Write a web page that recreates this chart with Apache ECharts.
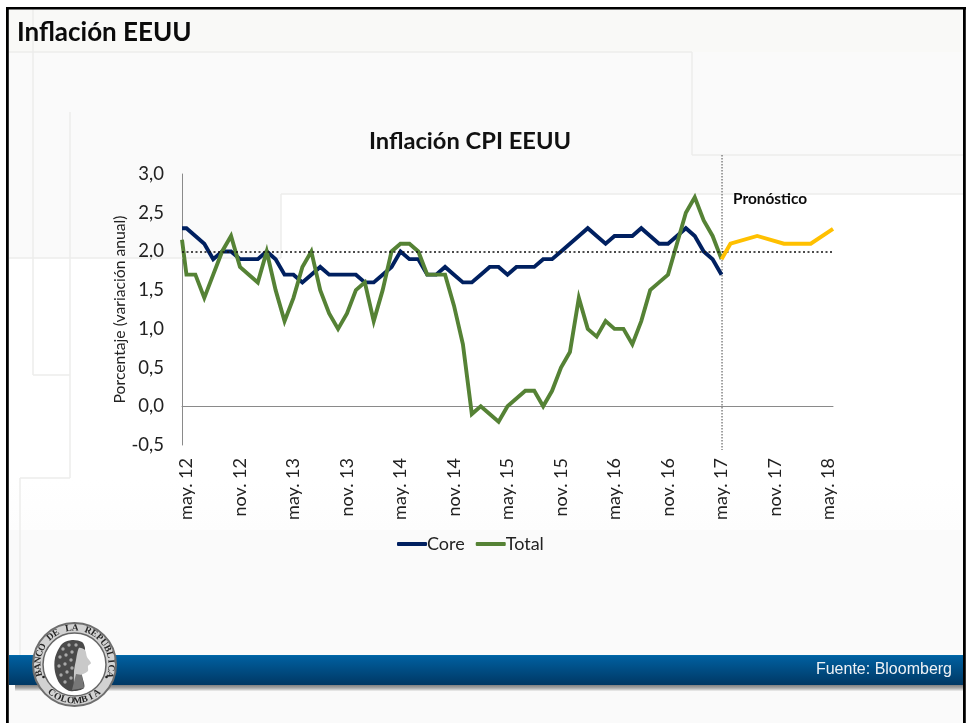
<!DOCTYPE html>
<html><head><meta charset="utf-8">
<style>html,body{margin:0;padding:0;background:#fff}#c{width:968px;height:723px}</style>
<script src="https://cdn.jsdelivr.net/npm/echarts@6/dist/echarts.min.js"></script>
</head><body><div id="c"></div>
<script>
const categories = [
 'may. 12','jun. 12','jul. 12','ago. 12','sep. 12','oct. 12','nov. 12','dic. 12','ene. 13','feb. 13','mar. 13','abr. 13',
 'may. 13','jun. 13','jul. 13','ago. 13','sep. 13','oct. 13','nov. 13','dic. 13','ene. 14','feb. 14','mar. 14','abr. 14',
 'may. 14','jun. 14','jul. 14','ago. 14','sep. 14','oct. 14','nov. 14','dic. 14','ene. 15','feb. 15','mar. 15','abr. 15',
 'may. 15','jun. 15','jul. 15','ago. 15','sep. 15','oct. 15','nov. 15','dic. 15','ene. 16','feb. 16','mar. 16','abr. 16',
 'may. 16','jun. 16','jul. 16','ago. 16','sep. 16','oct. 16','nov. 16','dic. 16','ene. 17','feb. 17','mar. 17','abr. 17',
 'may. 17','jun. 17','jul. 17','ago. 17','sep. 17','oct. 17','nov. 17','dic. 17','ene. 18','feb. 18','mar. 18','abr. 18','may. 18'];
const coreValues = [2.3,2.2,2.1,1.9,2.0,2.0,1.9,1.9,1.9,2.0,1.9,1.7,1.7,1.6,1.7,1.8,1.7,1.7,1.7,1.7,1.6,1.6,1.7,1.8,2.0,1.9,1.9,1.7,1.7,1.8,1.7,1.6,1.6,1.7,1.8,1.8,1.7,1.8,1.8,1.8,1.9,1.9,2.0,2.1,2.2,2.3,2.2,2.1,2.2,2.2,2.2,2.3,2.2,2.1,2.1,2.2,2.3,2.2,2.0,1.9,1.7];
const totalValues = [1.7,1.7,1.4,1.7,2.0,2.2,1.8,1.7,1.6,2.0,1.5,1.1,1.4,1.8,2.0,1.5,1.2,1.0,1.2,1.5,1.6,1.1,1.5,2.0,2.1,2.1,2.0,1.7,1.7,1.7,1.3,0.8,-0.1,0.0,-0.1,-0.2,0.0,0.1,0.2,0.2,0.0,0.2,0.5,0.7,1.4,1.0,0.9,1.1,1.0,1.0,0.8,1.1,1.5,1.6,1.7,2.1,2.5,2.7,2.4,2.2,1.9];
// values of each line where it enters the plot at the left edge, half a month before the first label
const coreEntry = 2.3, totalEntry = 2.15, entryPos = -0.5;
const forecastPos = [60,61,64,67,70,72.5];
const forecastValues = [1.9,2.1,2.2,2.1,2.1,2.29];
const targetValue = 2.0;
const forecastStart = 60;
const seriesNames = ['Core','Total','Pronóstico'];

const pts = (entry, vals) => [[entryPos, entry]].concat(vals.map((v,i)=>[i,v]));
const FONT = 'Lato';

function ln(x1,y1,x2,y2,c){return {type:'line',silent:true,z:1,shape:{x1,y1,x2,y2},style:{stroke:c||'#ececeb',lineWidth:1.5}};}
function rect(x,y,w,h,fill,z){return {type:'rect',silent:true,z:z||0,shape:{x,y,width:w,height:h},style:{fill}};}
function poly(points,fill,z,smooth){return {type:'polygon',silent:true,z:z,shape:{points,smooth:smooth||0},style:{fill}};}
const vgrad = stops => new echarts.graphic.LinearGradient(0,0,0,1,stops);

function arcText(str,cx,cy,r,startDeg,stepDeg,bottom){
  return str.split('').map((ch,i)=>{
    const a=(startDeg+i*stepDeg)*Math.PI/180;
    const x=cx+r*Math.sin(a), y=cy-r*Math.cos(a);
    return {type:'text',silent:true,z:14,x,y,rotation:bottom?Math.PI-a:-a,
      style:{text:ch,fill:'#262626',font:'bold 9.5px "Liberation Serif"',align:'center',verticalAlign:'middle'}};
  });
}
const leaves = [[63,649],[69,645],[76,645],[60,657],[66,655],[72,652],[59,666],[65,664],[71,660],[61,675],[67,672],[72,668],[65,682],[71,678]];

const bg = [
  rect(0,0,968,723,'#ffffff',0),
  rect(9,9,954,714,'#fafafa',0),
  rect(9,9,954,43,'#f9f9f7',0),
  poly([[9,258],[281,258],[281,194],[963,194],[963,530],[9,530]],vgrad([{offset:0,color:'#ffffff'},{offset:0.85,color:'#ffffff'},{offset:1,color:'#fdfdfd'}]),0),
  ln(9,52,692,52), ln(692,52,692,155), ln(692,155,963,155),
  ln(281,194,963,194), ln(281,194,281,258), ln(9,258,281,258),
  ln(33,9,33,375), ln(33,375,70,375), ln(70,112,70,478), ln(20,478,70,478), ln(20,478,20,655),
  // frame
  rect(6,7,960,2.4,'#000',5), rect(6,7,2.8,716,'#000',5), rect(963,7,2.8,716,'#000',5),
  // footer band
  {type:'rect',silent:true,z:6,shape:{x:15,y:685,width:948,height:6},style:{fill:vgrad([{offset:0,color:'#7f7f7f'},{offset:0.5,color:'#a8a8a8'},{offset:1,color:'#f0f0ef'}])}},
  {type:'rect',silent:true,z:7,shape:{x:9,y:655,width:954,height:30},style:{fill:vgrad([{offset:0,color:'#006cac'},{offset:0.05,color:'#005f9f'},{offset:1,color:'#003864'}])}},
  {type:'text',silent:true,z:8,x:952,y:670,style:{text:'Fuente: Bloomberg',fill:'#eef2f6',font:'16px "Liberation Sans"',align:'right',verticalAlign:'middle'}},
  // seal
  {type:'circle',silent:true,z:10,shape:{cx:74.5,cy:664.5,r:41.5},style:{fill:'#d2d2d2',stroke:'#6e6e6e',lineWidth:2}},
  {type:'circle',silent:true,z:11,shape:{cx:74.5,cy:664.5,r:31.5},style:{fill:'#fff',stroke:'#666',lineWidth:1.5}},
  poly([[62,644],[72,640],[82,642],[85,648],[84,656],[80,668],[82,676],[84,688],[70,691],[60,684],[55,672],[55,658]],'#4a4a4a',12,0.3),
  ...leaves.map(([cx,cy])=>({type:'circle',silent:true,z:13,shape:{cx,cy,r:1.7},style:{fill:'#a8a8a8'}})),
  poly([[79,648],[85,650],[87,657],[91,663],[88,666],[88,671],[83,674],[81,675],[83,686],[75,688],[74,672],[76,660]],'#c9c9c9',13,0.25),
  poly([[76,674],[82,675],[84,688],[72,690]],'#777',13,0),
  {type:'circle',silent:true,z:12,shape:{cx:43.5,cy:677,r:1.3},style:{fill:'#222'}},
  {type:'circle',silent:true,z:12,shape:{cx:106.5,cy:677,r:1.3},style:{fill:'#222'}},
  ...arcText('BANCO DE LA REPUBLICA',74.5,664.5,36.5,-104,10.5,false),
  ...arcText('COLOMBIA',74.5,664.5,36.5,219,-11,true),
  // slide title and annotation
  {type:'text',silent:true,z:8,x:17,y:33,style:{text:'Inflación EEUU',fill:'#0b0b0b',font:'bold 26px '+FONT,verticalAlign:'middle'}},
  {type:'text',silent:true,z:8,x:733,y:199,style:{text:'Pronóstico',fill:'#0b0b0b',font:'bold 15.4px '+FONT,verticalAlign:'middle'}}
];

const chart = echarts.init(document.getElementById('c'),null,{renderer:'canvas'});
chart.setOption({
  animation:false,
  backgroundColor:'#fff',
  textStyle:{fontFamily:FONT},
  title:{text:'Inflación CPI EEUU',left:465,top:124,textAlign:'center',textStyle:{fontFamily:FONT,fontWeight:'bold',fontSize:23.7,color:'#111'}},
  legend:{left:392,top:530,data:['Core','Total'],itemWidth:30,itemHeight:4,itemGap:11,icon:'roundRect',
    textStyle:{fontFamily:FONT,fontSize:18,color:'#222',padding:[0,0,0,-5]}},
  grid:{left:182,right:135,top:174,bottom:278},
  xAxis:[
    {type:'category',data:categories,boundaryGap:true,position:'bottom',
     axisLine:{show:false,onZero:false},axisTick:{show:false},splitLine:{show:false},
     axisLabel:{interval:5,rotate:90,margin:13,fontSize:18,color:'#222',fontFamily:FONT,hideOverlap:false}},
    {type:'value',min:-0.5,max:72.5,position:'bottom',
     axisLine:{show:true,onZero:true,lineStyle:{color:'#8a8a8a',width:1}},axisTick:{show:false},axisLabel:{show:false},splitLine:{show:false}}
  ],
  yAxis:{type:'value',min:-0.5,max:3,interval:0.5,
    name:'Porcentaje (variación anual)',nameLocation:'middle',nameRotate:90,nameGap:54,nameMoveOverlap:false,
    nameTextStyle:{fontFamily:FONT,fontSize:15.7,color:'#222'},
    axisLine:{show:true,onZero:false,lineStyle:{color:'#8a8a8a',width:1}},axisTick:{show:false},splitLine:{show:false},
    axisLabel:{margin:18,fontSize:18.5,color:'#222',fontFamily:FONT,formatter:v=>v.toFixed(1).replace('.',',')}},
  series:[
    {name:seriesNames[0],type:'line',xAxisIndex:1,data:pts(coreEntry,coreValues),showSymbol:false,symbol:'none',
     lineStyle:{color:'#002060',width:3.9,join:'miter'},itemStyle:{color:'#002060'},z:3,
     markLine:{silent:true,symbol:'none',label:{show:false},animation:false,
       data:[[{coord:[-0.5,targetValue],lineStyle:{color:'#111',type:[2,2.5],width:1.6}},{coord:[72.5,targetValue]}]]}},
    {name:seriesNames[1],type:'line',xAxisIndex:1,data:pts(totalEntry,totalValues),showSymbol:false,symbol:'none',
     lineStyle:{color:'#558235',width:3.9,join:'miter'},itemStyle:{color:'#558235'},z:4},
    {name:seriesNames[2],type:'line',xAxisIndex:1,data:forecastPos.map((p,i)=>[p,forecastValues[i]]),showSymbol:false,symbol:'none',
     lineStyle:{color:'#FFC000',width:3.9,join:'miter'},itemStyle:{color:'#FFC000'},z:5}
  ],
  graphic:{elements:bg}
});
// forecast divider runs above and below the plot, so it is placed from the axis scale
const fcX = chart.convertToPixel({xAxisIndex:1}, forecastStart);
chart.setOption({graphic:{elements:[{id:'fcLine',type:'line',silent:true,z:2,shape:{x1:fcX+0.5,y1:155,x2:fcX+0.5,y2:450},style:{stroke:'#666',lineWidth:1.2,lineDash:[1.5,1.5]}}]}});
</script></body></html>
